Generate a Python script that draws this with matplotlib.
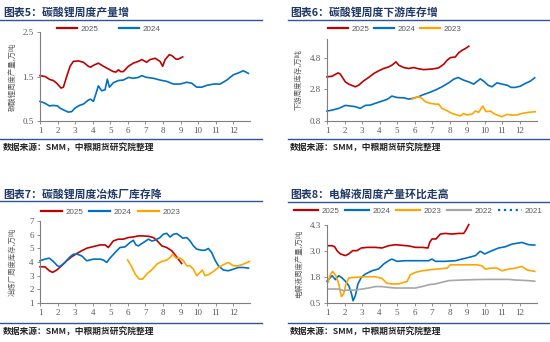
import matplotlib.pyplot as plt
from matplotlib.lines import Line2D

plt.rcParams['font.family'] = ['Noto Sans CJK SC', 'DejaVu Sans']

W, H = 550, 342

# ── colours ───────────────────────────────────────────────────────────────────
C25, C24, C23, C22, C21 = '#C00000', '#0070C0', '#FFA500', '#A6A6A6', '#0070C0'
NAVY = '#1F3864'
RULE = '#2F5597'
GREY = '#595959'

# ── data: x in months (fractional, week-based), values in 万吨 ─────────────────
# 图表5 碳酸锂周度产量
m5_25 = [1.0, 1.28, 1.57, 1.76, 1.95, 2.2, 2.33, 2.52, 2.71, 2.9, 3.18, 3.47, 3.75, 3.88,
         4.04, 4.32, 4.61, 4.89, 5.17, 5.33, 5.46, 5.59, 5.74, 6.03, 6.31, 6.6, 6.79, 7.07,
         7.26, 7.55, 7.83, 7.98, 8.12, 8.36, 8.5, 8.74, 8.87, 9.12]
v5_25 = [1.52, 1.50, 1.43, 1.41, 1.35, 1.24, 1.26, 1.50, 1.73, 1.84, 1.85, 1.82, 1.73, 1.71,
         1.75, 1.80, 1.73, 1.67, 1.61, 1.60, 1.65, 1.61, 1.61, 1.73, 1.80, 1.84, 1.88, 1.82,
         1.88, 1.91, 1.84, 1.73, 1.88, 1.99, 1.97, 1.89, 1.89, 1.94]
m5_24 = [1.0, 1.28, 1.53, 1.76, 1.99, 2.14, 2.33, 2.61, 2.8, 2.99, 3.24, 3.47, 3.75, 3.88,
         4.04, 4.19, 4.32, 4.51, 4.7, 4.83, 4.95, 5.17, 5.46, 5.74, 6.03, 6.31, 6.6, 6.79,
         7.07, 7.45, 7.83, 8.21, 8.59, 8.97, 9.35, 9.63, 9.92, 10.2, 10.49, 10.87, 11.25,
         11.63, 12.01, 12.29, 12.57, 12.86]
v5_24 = [0.94, 0.90, 0.84, 0.85, 0.84, 0.79, 0.75, 0.70, 0.71, 0.79, 0.85, 0.88, 0.97, 0.99,
         0.94, 1.12, 1.29, 1.18, 1.20, 1.44, 1.26, 1.36, 1.41, 1.42, 1.48, 1.46, 1.48, 1.52,
         1.48, 1.46, 1.42, 1.39, 1.33, 1.33, 1.37, 1.35, 1.26, 1.26, 1.30, 1.33, 1.33,
         1.42, 1.54, 1.58, 1.63, 1.57]

# 图表6 碳酸锂周度下游库存
m6_25 = [1.0, 1.29, 1.63, 1.76, 2.05, 2.24, 2.62, 2.81, 3.1, 3.38, 3.67, 3.95, 4.24, 4.52,
         4.71, 4.94, 5.1, 5.38, 5.67, 5.95, 6.24, 6.52, 6.81, 7.1, 7.38, 7.67, 7.86, 8.05,
         8.33, 8.52, 8.71, 8.9, 9.1]
v6_25 = [3.60, 3.64, 3.85, 3.77, 3.28, 3.14, 2.97, 3.07, 3.35, 3.56, 3.81, 3.98, 4.13, 4.23,
         4.34, 4.55, 4.34, 4.19, 4.13, 4.19, 4.11, 4.06, 4.08, 4.11, 4.17, 4.40, 4.65, 4.82,
         4.86, 5.12, 5.28, 5.39, 5.54]
m6_24 = [1.0, 1.29, 1.67, 2.05, 2.33, 2.62, 2.9, 3.19, 3.48, 3.76, 4.14, 4.43, 4.71, 5.0,
         5.38, 5.67, 5.95, 6.24, 6.52, 6.81, 7.19, 7.57, 7.95, 8.24, 8.49, 8.81, 9.1, 9.38,
         9.76, 9.95, 10.2, 10.43, 10.71, 11.0, 11.29, 11.53, 11.76, 12.05, 12.33, 12.62, 12.87]
v6_24 = [1.43, 1.49, 1.60, 1.79, 1.75, 1.71, 1.60, 1.79, 1.81, 1.92, 2.06, 2.17, 2.38, 2.29,
         2.27, 2.19, 2.25, 2.34, 2.48, 2.59, 2.76, 2.97, 3.22, 3.45, 3.56, 3.39, 3.28, 3.14,
         3.47, 3.33, 3.07, 2.97, 3.22, 3.14, 3.07, 2.93, 2.93, 3.01, 3.18, 3.33, 3.54]
m6_23 = [5.86, 6.05, 6.24, 6.43, 6.62, 6.9, 7.19, 7.38, 7.57, 7.86, 8.14, 8.43, 8.62, 8.81,
         9.0, 9.29, 9.48, 9.67, 9.9, 10.09, 10.33, 10.62, 11.0, 11.29, 11.57, 11.86, 12.14,
         12.52, 12.9]
v6_23 = [2.19, 2.29, 2.34, 2.23, 2.02, 1.92, 1.87, 1.87, 1.60, 1.45, 1.28, 1.18, 1.12, 1.28,
         1.18, 1.24, 1.43, 1.35, 1.75, 1.39, 1.43, 1.22, 1.07, 1.22, 1.18, 1.18, 1.28,
         1.35, 1.39]

# 图表7 碳酸锂周度冶炼厂库存
m7_25 = [1.0, 1.28, 1.53, 1.72, 1.95, 2.23, 2.52, 2.8, 3.09, 3.37, 3.66, 4.04, 4.42, 4.7,
         4.89, 5.17, 5.46, 5.74, 6.03, 6.31, 6.6, 6.88, 7.17, 7.45, 7.64, 7.93, 8.21, 8.5,
         8.69, 8.87, 9.06]
v7_25 = [3.65, 3.65, 3.36, 3.24, 3.41, 3.72, 4.09, 4.38, 4.62, 4.82, 5.01, 5.13, 5.25, 5.25,
         5.06, 5.54, 5.67, 5.67, 5.79, 5.83, 5.91, 5.91, 5.88, 5.79, 5.59, 5.18, 5.06, 4.82,
         4.52, 4.21, 3.89]
m7_24 = [1.0, 1.28, 1.53, 1.76, 1.99, 2.14, 2.42, 2.71, 2.9, 3.13, 3.37, 3.66, 4.04, 4.42,
         4.61, 4.8, 4.98, 5.27, 5.55, 5.84, 6.12, 6.31, 6.46, 6.6, 6.88, 7.17, 7.36, 7.54,
         7.83, 8.02, 8.21, 8.4, 8.59, 8.78, 8.97, 9.12, 9.35, 9.54, 9.73, 9.92, 10.2, 10.39,
         10.58, 10.77, 10.96, 11.15, 11.44, 11.72, 12.01, 12.29, 12.57, 12.86]
v7_24 = [4.09, 4.21, 4.28, 4.04, 3.72, 3.67, 3.97, 4.38, 4.57, 4.57, 4.45, 4.09, 4.21, 4.21,
         4.14, 3.97, 4.28, 4.69, 5.06, 5.11, 5.42, 5.59, 5.25, 5.18, 5.42, 5.67, 5.54, 5.59,
         5.79, 6.03, 6.10, 5.83, 6.03, 6.08, 5.91, 5.74, 5.79, 5.54, 5.18, 4.94, 4.86, 4.86,
         4.99, 4.69, 4.14, 3.72, 3.41, 3.36, 3.48, 3.60, 3.60, 3.55]
m7_23 = [5.99, 6.22, 6.41, 6.65, 6.84, 7.07, 7.3, 7.49, 7.64, 7.93, 8.21, 8.4, 8.55, 8.74,
         8.97, 9.16, 9.35, 9.54, 9.73, 9.92, 10.11, 10.24, 10.39, 10.58, 10.87, 11.15,
         11.44, 11.72, 12.01, 12.29, 12.57, 12.92]
v7_23 = [4.14, 3.65, 3.12, 2.75, 2.75, 3.12, 3.36, 3.60, 3.84, 4.04, 4.14, 4.33, 4.57, 4.28,
         4.28, 4.09, 3.72, 3.72, 3.48, 3.00, 3.24, 3.41, 3.00, 3.07, 3.31, 3.60, 3.80,
         3.97, 3.72, 3.72, 3.84, 4.04]

# 图表8 电解液周度产量
m8_25 = [1.06, 1.29, 1.44, 1.57, 1.76, 2.05, 2.24, 2.47, 2.71, 2.96, 3.29, 3.76, 4.14, 4.52,
         4.9, 5.29, 5.67, 6.05, 6.43, 6.77, 6.87, 7.0, 7.23, 7.48, 7.76, 8.14, 8.52, 8.81,
         8.94, 9.1]
v8_25 = [3.29, 3.29, 3.24, 3.05, 2.89, 2.81, 2.89, 3.05, 3.05, 3.18, 3.21, 3.21, 3.18, 3.29,
         3.34, 3.31, 3.28, 3.21, 3.21, 3.18, 3.46, 3.62, 3.62, 3.86, 3.89, 3.86, 3.89, 3.89,
         4.06, 4.32]
m8_24 = [1.0, 1.29, 1.48, 1.67, 1.86, 2.05, 2.24, 2.39, 2.49, 2.62, 2.77, 2.96, 3.19, 3.57,
         3.95, 4.24, 4.52, 4.71, 5.0, 5.48, 6.05, 6.62, 6.81, 7.0, 7.19, 7.76, 8.33, 8.71,
         9.1, 9.48, 9.76, 10.01, 10.43, 10.81, 11.19, 11.57, 12.14, 12.52, 12.87]
v8_24 = [1.56, 1.83, 1.64, 1.83, 1.72, 1.56, 1.35, 0.99, 0.61, 0.86, 1.43, 1.75, 1.91, 2.07,
         2.16, 2.40, 2.56, 2.64, 2.53, 2.56, 2.56, 2.56, 2.56, 2.64, 2.53, 2.53, 2.56, 2.64,
         2.72, 2.81, 3.02, 2.89, 3.05, 3.18, 3.24, 3.37, 3.45, 3.34, 3.32]
m8_23 = [1.06, 1.19, 1.32, 1.51, 1.67, 1.82, 1.95, 2.09, 2.24, 2.62, 3.19, 3.76, 4.14, 4.43,
         4.71, 5.1, 5.38, 5.57, 5.76, 6.05, 6.43, 6.9, 7.38, 7.86, 8.05, 8.52, 9.1, 9.57,
         9.86, 10.05, 10.33, 10.71, 11.0, 11.38, 11.76, 12.14, 12.43, 12.87]
v8_23 = [1.51, 1.88, 2.04, 1.83, 1.43, 0.81, 0.94, 1.43, 1.72, 1.75, 1.78, 1.78, 1.70, 1.46,
         1.43, 1.43, 1.51, 1.54, 1.88, 1.99, 2.07, 2.12, 2.16, 2.20, 2.36, 2.36, 2.36, 2.36,
         2.31, 2.15, 2.20, 2.20, 2.07, 2.15, 2.20, 2.28, 2.11, 2.04]
m8_22 = [1.06, 1.67, 1.95, 2.14, 2.62, 3.0, 3.38, 3.76, 4.14, 4.52, 4.9, 5.48, 6.05, 6.43,
         6.81, 7.19, 7.57, 7.95, 8.71, 9.48, 10.24, 11.0, 11.38, 11.76, 12.52, 12.87]
v8_22 = [1.18, 1.18, 1.10, 1.13, 1.13, 1.18, 1.23, 1.30, 1.30, 1.26, 1.23, 1.23, 1.23, 1.30,
         1.39, 1.43, 1.51, 1.59, 1.62, 1.64, 1.65, 1.65, 1.65, 1.62, 1.59, 1.56]
m8_21 = []   # only shown in legend
v8_21 = []

month_ticks = list(range(1, 13))


def fig_rect(l, t, r, b):
    return [l / W, 1 - b / H, (r - l) / W, (b - t) / H]


def hrule(fig, x0, x1, y):
    fig.add_artist(Line2D([x0 / W, x1 / W], [1 - y / H, 1 - y / H],
                          color=RULE, lw=1.0, transform=fig.transFigure))


def panel(fig, rect, title, tx, ty, rule_x, rule_top, rule_bot, ylabel, ylx,
          ylim, yticks, ylabels, xlim, series, leg):
    # title, rules and source
    fig.text(tx / W, 1 - ty / H, title, fontsize=7.8, fontweight='bold',
             color=NAVY, ha='left', va='center')
    hrule(fig, rule_x[0], rule_x[1], rule_top)
    hrule(fig, rule_x[0], rule_x[1], rule_bot)
    fig.text(tx / W, 1 - (rule_bot + 9.5) / H, '数据来源：SMM，中粮期货研究院整理',
             fontsize=6.3, fontweight='bold', fontstyle='italic', color='#262626',
             ha='left', va='center')

    ax = fig.add_axes(fig_rect(*rect))
    for x, y, c, ls, lab in series:
        ax.plot(x, y, color=c, lw=1.2, ls=ls, label=lab, clip_on=False)
    ax.set_xlim(*xlim)
    ax.set_ylim(*ylim)
    ax.set_xticks(month_ticks)
    ax.set_xticklabels([str(m) for m in month_ticks])
    ax.set_yticks(yticks)
    ax.set_yticklabels(ylabels)
    for s in ('top', 'right'):
        ax.spines[s].set_visible(False)
    for s in ('left', 'bottom'):
        ax.spines[s].set_color('#7F7F7F')
        ax.spines[s].set_linewidth(0.8)
    ax.tick_params(length=2.5, width=0.6, color='#7F7F7F', labelcolor=GREY,
                   labelsize=6.5, pad=2)
    for lab in ax.get_xticklabels() + ax.get_yticklabels():
        lab.set_family('Liberation Serif')
    fig.text(ylx / W, 1 - (rect[1] + rect[3]) / 2 / H, ylabel, rotation=90,
             fontsize=5.3, color=GREY, ha='center', va='center')

    lx, ly, hl, cs = leg
    ax.legend(loc='center left', bbox_to_anchor=(lx / W, 1 - ly / H),
              bbox_transform=fig.transFigure, ncol=len(series), frameon=False,
              borderpad=0, borderaxespad=0, handlelength=hl, handletextpad=0.4,
              columnspacing=cs, prop={'family': 'Liberation Sans', 'size': 5.8},
              labelcolor=GREY)
    for line in ax.get_legend().get_lines():
        line.set_linewidth(1.6)
    return ax


fig = plt.figure(figsize=(W / 100, H / 100), dpi=100)
fig.patch.set_facecolor('white')

panel(fig, (40, 32, 250, 121), '图表5：碳酸锂周度产量增', 3, 12, (0, 262), 19.5, 138.5,
      '碳酸锂周度产量,万吨', 12.5, (0.5, 2.5), [0.5, 1.5, 2.5], ['0.5', '1.5', '2.5'],
      (1, 12.95),
      [(m5_25, v5_25, C25, '-', '2025'), (m5_24, v5_24, C24, '-', '2024')],
      (57, 29, 2.5, 2.6))

panel(fig, (327, 39, 537, 121), '图表6：碳酸锂周度下游库存增', 290, 12, (288, 550), 19.5, 138.5,
      '下游周度库存,万吨', 298.5, (0.8, 6.0), [0.8, 2.8, 4.8], ['0.8', '2.8', '4.8'],
      (1, 13.0),
      [(m6_25, v6_25, C25, '-', '2025'), (m6_24, v6_24, C24, '-', '2024'),
       (m6_23, v6_23, C23, '-', '2023')],
      (328, 29, 2.5, 0.6))

panel(fig, (40, 221, 250, 303), '图表7：碳酸锂周度冶炼厂库存降', 3, 194, (0, 262), 201, 323,
      '冶炼厂周度库存,万吨', 12.5, (1, 7), [1, 2, 3, 4, 5, 6, 7],
      ['1', '2', '3', '4', '5', '6', '7'], (1, 12.95),
      [(m7_25, v7_25, C25, '-', '2025'), (m7_24, v7_24, C24, '-', '2024'),
       (m7_23, v7_23, C23, '-', '2023')],
      (41, 212, 2.6, 0.8))

y8 = [0.5 + k * (4.3 - 0.5) / 3 for k in range(4)]
panel(fig, (327, 225, 537, 303), '图表8：电解液周度产量环比走高', 290, 194, (288, 550), 202, 323,
      '电解液周度产量,万吨', 298.5, (0.5, 4.3), y8, ['%.1f' % v for v in y8], (1, 13.0),
      [(m8_25, v8_25, C25, '-', '2025'), (m8_24, v8_24, C24, '-', '2024'),
       (m8_23, v8_23, C23, '-', '2023'), (m8_22, v8_22, C22, '-', '2022'),
       (m8_21, v8_21, C21, ':', '2021')],
      (294, 211, 3.0, 0.7))

fig.savefig('out.png', dpi=100, facecolor='white')
